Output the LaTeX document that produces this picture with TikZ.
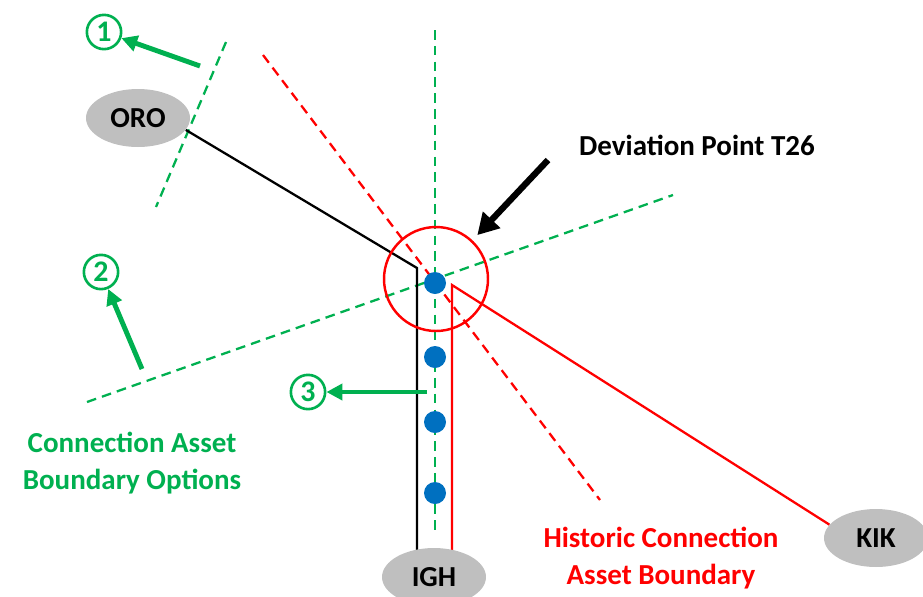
\documentclass[tikz,border=0pt]{standalone}
\usepackage{fontspec}
\setmainfont{Carlito}
\usepackage{tikz}
\usetikzlibrary{arrows.meta,shapes.geometric,backgrounds,positioning}
\definecolor{optgreen}{HTML}{00B050}
\definecolor{histred}{HTML}{FF0000}
\definecolor{subgrey}{HTML}{BFBFBF}
\definecolor{towerblue}{HTML}{0070C0}
\tikzset{>=latex}
\tikzstyle{substation}=[ellipse,fill=subgrey,minimum width=2.08cm,minimum height=1.16cm,inner sep=0pt,font=\fontsize{16.5}{20}\selectfont\bfseries]
\tikzstyle{option}=[circle,draw=optgreen,text=optgreen,line width=1.5pt,minimum size=19.5pt,inner sep=0pt,font=\fontsize{17}{17}\selectfont\bfseries]
\tikzstyle{boundary}=[optgreen,line width=1.3pt,dash pattern=on 5.5pt off 3.5pt]
\tikzstyle{pointer}=[-{Triangle[length=9pt,width=9pt]},optgreen,line width=2.8pt]
\tikzstyle{caption}=[align=center,font=\fontsize{16.5}{21}\selectfont\bfseries]

\begin{document}
\begin{tikzpicture}[x=0.02cm,y=-0.02cm]
  \useasboundingbox (0,0) rectangle (923,596);

  % substations
  \node[substation] (oro) at (138,118) {ORO};
  \node[substation] (igh) at (434,577) {IGH};
  \node[substation] (kik) at (876,538) {KIK};

  % deviation point
  \node[circle,draw=histred,line width=1.4pt,minimum size=2.08cm] (devpt) at (436,279) {};
  \coordinate (blackbend) at (417,268);
  \coordinate (redtop) at (452,285);

  \begin{scope}[on background layer]
    \draw[boundary] (226,42) -- (156,207);          % option 1
    \draw[boundary] (87,402) -- (673,195);          % option 2
    \draw[boundary] (435,30) -- (435,535);          % option 3
    \draw[histred,line width=1.3pt,dash pattern=on 5.5pt off 3.5pt] (263,55) -- (600,500);
    \draw[black,line width=1.3pt] (oro.-14) -- (blackbend) -- (blackbend |- igh.center);
    \draw[histred,line width=1.3pt] (kik.164) -- (redtop) -- (redtop |- igh.center);
  \end{scope}

  \foreach \y [count=\i] in {283,357,422,493}{
    \fill[towerblue] (435,\y) circle (0.22cm) coordinate (tower\i);
  }

  % options
  \node[option] (opt1) at (104,32) {1};
  \node[option] (opt2) at (101,272) {2};
  \node[option] (opt3) at (308,392) {3};
  \coordinate (tail1) at (200,66);
  \coordinate (tail2) at (142,369);
  \coordinate (tail3) at (427,392);
  \draw[pointer] (tail1) -- (opt1);
  \draw[pointer] (tail2) -- (opt2);
  \draw[pointer] (tail3) -- (opt3);

  % labels
  \node[caption] (devlabel) at (697,145) {Deviation Point T26};
  \coordinate (devtail) at (548,160);
  \draw[-{Triangle[length=12pt,width=13pt]},line width=3.6pt,shorten >=4pt] (devtail) -- (devpt);
  \node[caption,text=optgreen] (optlabel) at (132,463) {Connection Asset\\Boundary Options};
  \node[caption,text=histred] (histlabel) at (661,558) {Historic Connection\\Asset Boundary};

\end{tikzpicture}
\end{document}
